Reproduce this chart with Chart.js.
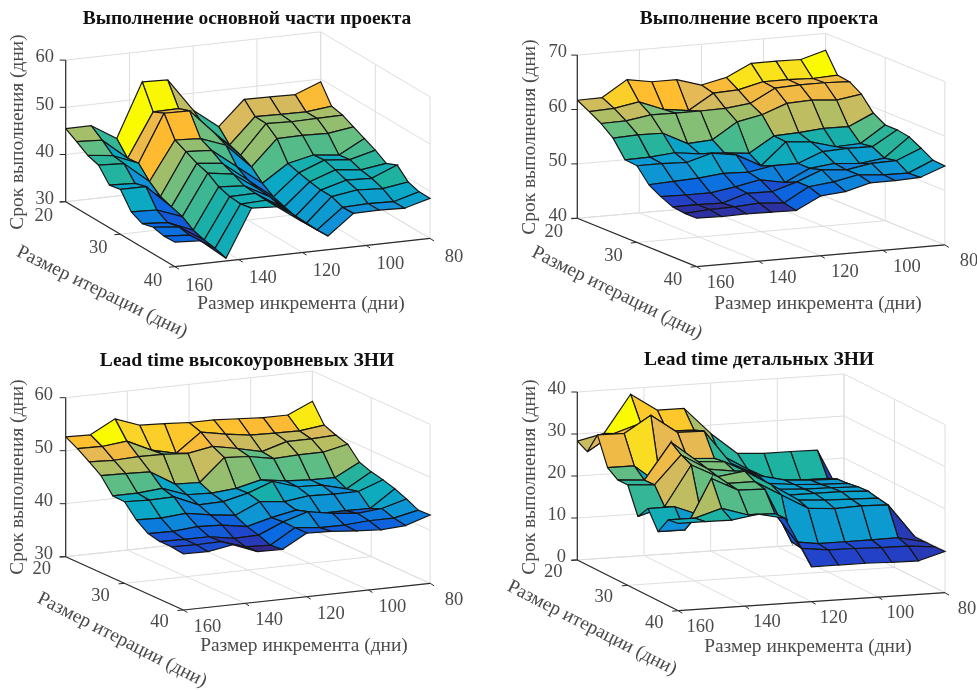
<!DOCTYPE html>
<html>
<head>
<meta charset="utf-8">
<title>Срок выполнения</title>
<script src="https://cdn.jsdelivr.net/npm/chart.js@4"></script>
<style>
body { margin: 0; background: #fff; }
canvas { position: absolute; }
</style>
</head>
<body>
<canvas id="c0" width="488" height="345" style="left:0;top:0"></canvas>
<canvas id="c1" width="488" height="345" style="left:489px;top:0"></canvas>
<canvas id="c2" width="488" height="345" style="left:0;top:345px"></canvas>
<canvas id="c3" width="488" height="345" style="left:489px;top:345px"></canvas>
<script>
// one inner list per increment (160 ... 80), values along iteration 20 ... 40
const incrementSizes = [160, 152, 144, 136, 128, 120, 112, 104, 96, 88, 80];
const iterationSizes = [20, 22, 24, 26, 28, 30, 32, 34, 36, 38, 40];
const incrementTicks = [160, 140, 120, 100, 80];
const iterationTicks = [20, 30, 40];

const mainPartDays = [
    [45.5, 44.1, 42.6, 41.9, 39.0, 39.5, 36.1, 35.0, 35.6, 35.1, 35.2],
    [45.5, 43.8, 41.9, 41.6, 38.8, 39.5, 35.9, 34.6, 35.1, 34.7, 34.9],
    [42.2, 39.4, 39.7, 37.2, 35.4, 34.6, 33.9, 32.4, 31.7, 31.3, 30.6],
    [53.6, 48.6, 49.7, 45.4, 44.3, 43.2, 42.5, 41.0, 40.3, 40.1, 40.6],
    [53.4, 48.7, 49.6, 45.1, 44.0, 42.6, 41.7, 40.6, 40.4, 40.3, 40.3],
    [46.4, 44.4, 44.2, 43.1, 39.9, 38.5, 37.9, 37.7, 37.0, 36.9, 36.5],
    [42.3, 39.8, 39.0, 37.9, 35.8, 34.3, 33.6, 32.9, 32.8, 32.8, 32.9],
    [47.5, 45.2, 45.1, 43.3, 39.4, 38.8, 38.3, 37.9, 37.9, 37.0, 37.1],
    [47.4, 45.1, 44.9, 43.4, 40.6, 40.9, 40.2, 39.4, 38.7, 37.2, 37.2],
    [47.3, 45.0, 45.0, 43.2, 40.0, 40.4, 39.6, 39.2, 38.4, 37.0, 37.0],
    [49.4, 45.6, 45.1, 44.0, 42.9, 41.8, 40.4, 41.4, 39.2, 38.5, 38.5]
];
const wholeProjectDays = [
    [61.7, 60.5, 59.2, 57.4, 54.3, 54.1, 51.5, 50.2, 49.2, 48.9, 48.9],
    [61.8, 60.7, 59.3, 57.6, 54.4, 54.1, 51.7, 50.1, 49.2, 49.2, 48.8],
    [64.7, 61.5, 60.0, 57.5, 54.8, 53.9, 51.9, 50.1, 49.1, 49.3, 48.9],
    [63.9, 59.7, 59.9, 55.2, 54.2, 55.2, 52.4, 50.8, 50.5, 49.6, 48.8],
    [63.9, 59.1, 59.9, 55.5, 54.0, 54.5, 52.2, 51.7, 50.4, 49.2, 48.7],
    [62.5, 61.9, 60.0, 58.4, 53.5, 52.1, 53.0, 50.8, 51.8, 51.8, 51.0],
    [63.5, 62.1, 60.5, 59.3, 56.3, 56.1, 53.0, 53.0, 53.6, 52.3, 51.4],
    [65.7, 63.2, 62.9, 61.0, 56.5, 55.7, 54.8, 53.5, 53.2, 53.2, 52.6],
    [65.7, 63.2, 63.1, 61.2, 56.9, 54.4, 55.0, 53.1, 54.0, 52.8, 52.6],
    [65.6, 63.0, 63.1, 60.8, 56.8, 54.6, 54.9, 53.7, 54.1, 52.7, 52.8],
    [66.9, 63.2, 62.9, 61.5, 58.9, 57.6, 57.6, 57.2, 56.0, 54.7, 54.5]
];
const highLevelLeadDays = [
    [52.6, 51.4, 49.9, 48.3, 45.5, 45.4, 43.0, 41.4, 40.9, 40.9, 40.6],
    [52.5, 51.3, 49.7, 48.2, 45.5, 45.2, 42.8, 41.3, 40.8, 40.8, 40.5],
    [55.0, 51.8, 49.9, 48.0, 45.9, 45.3, 43.2, 41.7, 40.8, 40.9, 41.3],
    [53.3, 49.6, 49.8, 45.2, 44.2, 43.3, 42.4, 41.5, 40.0, 39.4, 39.5],
    [53.1, 48.5, 49.5, 45.0, 44.0, 43.4, 41.8, 40.7, 40.1, 39.2, 39.4],
    [52.8, 52.0, 50.3, 49.2, 44.4, 44.5, 43.9, 41.9, 42.1, 42.0, 42.0],
    [52.8, 51.1, 49.4, 48.9, 45.5, 46.2, 43.4, 42.8, 43.5, 41.5, 41.8],
    [52.5, 50.4, 48.3, 48.0, 44.8, 44.7, 44.0, 41.7, 42.7, 41.5, 41.4],
    [52.2, 50.3, 49.7, 48.2, 44.5, 44.5, 43.8, 41.7, 42.2, 41.8, 41.1],
    [52.2, 50.2, 49.7, 48.2, 44.4, 43.3, 43.8, 41.6, 42.6, 41.8, 41.4],
    [54.3, 50.8, 49.9, 49.2, 46.8, 46.0, 45.5, 44.8, 43.9, 42.8, 42.9]
];
const detailedLeadDays = [
    [28.3, 27.0, 32.2, 25.6, 23.9, 23.9, 17.6, 20.7, 16.4, 20.4, 20.8],
    [29.7, 30.9, 32.1, 25.6, 23.4, 23.5, 19.5, 20.7, 16.4, 20.4, 20.8],
    [38.6, 32.9, 36.0, 20.5, 32.0, 30.2, 29.0, 18.2, 28.2, 22.3, 20.7],
    [34.4, 30.6, 31.5, 26.5, 27.0, 26.4, 25.8, 25.4, 25.0, 20.3, 21.7],
    [34.4, 30.4, 31.4, 26.1, 26.5, 25.5, 26.7, 25.4, 24.8, 20.2, 20.3],
    [28.0, 24.1, 23.3, 22.9, 23.3, 22.9, 23.0, 21.8, 11.9, 11.5, 8.3],
    [22.8, 20.3, 20.0, 19.3, 19.1, 18.9, 19.0, 18.2, 11.0, 10.7, 8.3],
    [22.4, 17.0, 18.5, 18.6, 18.7, 18.9, 18.5, 17.7, 11.0, 10.6, 8.3],
    [22.4, 16.8, 18.0, 18.2, 18.6, 18.9, 18.3, 17.9, 11.0, 10.4, 8.1],
    [22.3, 16.8, 17.8, 18.0, 18.4, 18.6, 18.1, 17.7, 11.1, 10.3, 8.0],
    [9.8, 9.8, 9.7, 9.7, 9.7, 9.7, 9.7, 9.7, 9.7, 9.7, 9.8]
];

// colours as they look in the picture, low to high, with the share of the range where each sits
const colorStops = [
    [50, 40, 140], [35, 65, 200], [10, 105, 225], [15, 145, 215], [10, 168, 198], [30, 178, 160],
    [100, 190, 130], [175, 190, 100], [225, 185, 90], [255, 187, 48], [250, 215, 40], [250, 250, 0]
];
const colorPlaces = [0, 0.08, 0.18, 0.28, 0.38, 0.47, 0.58, 0.66, 0.75, 0.83, 0.9, 1];

const panels = [
    { canvas: 'c0', left: 0, top: 0, title: 'Выполнение основной части проекта', z: mainPartDays, zTicks: [30, 40, 50, 60],
      origin: [65.7, 201.7], incStep: [25.5, -2.83], iterStep: [10.93, 6.5], zPx: 4.72,
      titleAt: [247, 19], zTickRight: 54, iterOff: [-22, 14], incOff: [24, 19],
      incLabel: [301, 304], iterLabel: [102, 292], iterAngle: 26, zLabel: [18, 132] },
    { canvas: 'c1', left: 489, top: 0, title: 'Выполнение всего проекта', z: wholeProjectDays, zTicks: [40, 50, 60, 70],
      origin: [88.3, 218.3], incStep: [24.83, -2.17], iterStep: [11.93, 4.83], zPx: 5.44,
      titleAt: [270, 19], zTickRight: 78, iterOff: [-23.5, 13.5], incOff: [24, 16.5],
      incLabel: [329, 304], iterLabel: [128, 293], iterAngle: 26.3, zLabel: [41, 137] },
    { canvas: 'c2', left: 0, top: 345, title: 'Lead time высокоуровневых ЗНИ', z: highLevelLeadDays, zTicks: [30, 40, 50, 60],
      origin: [65.7, 211.7], incStep: [24.67, -2.67], iterStep: [11.77, 5.33], zPx: 5.3,
      titleAt: [247, 16], zTickRight: 53, iterOff: [-24, 12.5], incOff: [24, 17],
      incLabel: [304, 301], iterLabel: [122, 295], iterAngle: 27, zLabel: [18, 132] },
    { canvas: 'c3', left: 489, top: 345, title: 'Lead time детальных ЗНИ', z: detailedLeadDays, zTicks: [0, 10, 20, 30, 40],
      origin: [88.3, 215], incStep: [26.67, -1.8], iterStep: [10.1, 5.07], zPx: 4.2,
      titleAt: [270, 15], zTickRight: 77, iterOff: [-24, 12], incOff: [22, 16],
      incLabel: [319, 302], iterLabel: [103, 283], iterAngle: 27, zLabel: [41, 132] }
];

function colorFor(value, low, high) {
    const share = (value - low) / (high - low);
    let k = 0;
    while (k < colorPlaces.length - 2 && share > colorPlaces[k + 1]) k++;
    const t = (share - colorPlaces[k]) / (colorPlaces[k + 1] - colorPlaces[k]);
    const rgb = colorStops[k].map((c, n) => Math.round(c + (colorStops[k + 1][n] - c) * t));
    return 'rgb(' + rgb.join(',') + ')';
}

function buildPanel(panel) {
    const all = panel.z.flat();
    const low = Math.min(...all);
    const high = Math.max(...all);
    const zMin = panel.zTicks[0];
    const zMax = panel.zTicks[panel.zTicks.length - 1];
    const incIndex = inc => (incrementSizes[0] - inc) / (incrementSizes[0] - incrementSizes[1]);
    const iterIndex = iter => (iter - iterationSizes[0]) / (iterationSizes[1] - iterationSizes[0]);

    // oblique view: increment and iteration run across the floor, days go up
    const project = (inc, iter, days) => {
        const a = incIndex(inc);
        const b = iterIndex(iter);
        return {
            x: panel.origin[0] + a * panel.incStep[0] + b * panel.iterStep[0],
            y: panel.origin[1] + a * panel.incStep[1] + b * panel.iterStep[1] - (days - zMin) * panel.zPx
        };
    };

    const datasets = [];
    const addLine = (points, color, width) => {
        datasets.push({ data: points, showLine: true, fill: false, borderColor: color, borderWidth: width,
            pointRadius: 0, clip: false, order: -datasets.length });
    };

    const incFar = incrementTicks[incrementTicks.length - 1];
    const incNear = incrementTicks[0];
    const iterFar = iterationTicks[0];
    const iterNear = iterationTicks[iterationTicks.length - 1];
    const grid = '#dedede';

    incrementTicks.forEach(inc => {
        addLine([project(inc, iterFar, zMin), project(inc, iterNear, zMin)], grid, 1);
        addLine([project(inc, iterFar, zMin), project(inc, iterFar, zMax)], grid, 1);
    });
    iterationTicks.forEach(iter => {
        addLine([project(incNear, iter, zMin), project(incFar, iter, zMin)], grid, 1);
        addLine([project(incFar, iter, zMin), project(incFar, iter, zMax)], grid, 1);
    });
    panel.zTicks.forEach(t => {
        addLine([project(incNear, iterFar, t), project(incFar, iterFar, t), project(incFar, iterNear, t)], grid, 1);
    });

    // axes with short outward ticks
    const axis = '#2b2b2b';
    addLine([project(incNear, iterFar, zMin), project(incNear, iterFar, zMax)], axis, 1.2);
    addLine([project(incNear, iterFar, zMin), project(incNear, iterNear, zMin)], axis, 1.2);
    addLine([project(incNear, iterNear, zMin), project(incFar, iterNear, zMin)], axis, 1.2);
    panel.zTicks.forEach(t => {
        const p = project(incNear, iterFar, t);
        addLine([p, { x: p.x - 6, y: p.y }], axis, 1);
    });
    iterationTicks.forEach(iter => {
        const p = project(incNear, iter, zMin);
        addLine([p, { x: p.x - 6, y: p.y + 0.5 }], axis, 1);
    });
    incrementTicks.forEach(inc => {
        const p = project(inc, iterNear, zMin);
        addLine([p, { x: p.x + 4, y: p.y + 2.5 }], axis, 1);
    });

    // far cells first so the near ones cover them
    for (let j = 0; j < iterationSizes.length - 1; j++) {
        for (let i = incrementSizes.length - 2; i >= 0; i--) {
            const corners = [
                project(incrementSizes[i], iterationSizes[j], panel.z[i][j]),
                project(incrementSizes[i + 1], iterationSizes[j], panel.z[i + 1][j]),
                project(incrementSizes[i + 1], iterationSizes[j + 1], panel.z[i + 1][j + 1]),
                project(incrementSizes[i], iterationSizes[j + 1], panel.z[i][j + 1])
            ];
            corners.push(corners[0]);
            datasets.push({
                data: corners, showLine: true, fill: 'shape', tension: 0,
                backgroundColor: colorFor(panel.z[i + 1][j], low, high),
                borderColor: '#161616', borderWidth: 1.2, pointRadius: 0, clip: false,
                order: -datasets.length
            });
        }
    }

    const textPlugin = {
        id: 'panelText',
        afterDraw(chart) {
            const c = chart.ctx;
            const px = v => chart.scales.x.getPixelForValue(v);
            const py = v => chart.scales.y.getPixelForValue(v);
            const put = (text, x, y, font, color, align, angle) => {
                c.save();
                c.translate(px(x), py(y));
                c.rotate((angle || 0) * Math.PI / 180);
                c.font = font;
                c.fillStyle = color;
                c.textAlign = align || 'center';
                c.textBaseline = 'middle';
                c.fillText(text, 0, 0);
                c.restore();
            };
            const tickFont = '18.5px "Liberation Serif"';
            const labelFont = '19.4px "Liberation Serif"';
            const gray = '#4a4a4a';
            put(panel.title, panel.titleAt[0], panel.titleAt[1], 'bold 19.5px "Liberation Serif"', '#111');
            panel.zTicks.forEach(t => {
                const p = project(incNear, iterFar, t);
                put(String(t), panel.zTickRight, p.y - 2.5, tickFont, gray, 'right');
            });
            iterationTicks.forEach(iter => {
                const p = project(incNear, iter, zMin);
                put(String(iter), p.x + panel.iterOff[0], p.y + panel.iterOff[1], tickFont, gray);
            });
            incrementTicks.forEach(inc => {
                const p = project(inc, iterNear, zMin);
                put(String(inc), p.x + panel.incOff[0], p.y + panel.incOff[1], tickFont, gray);
            });
            put('Размер инкремента (дни)', panel.incLabel[0], panel.incLabel[1], labelFont, gray);
            put('Размер итерации (дни)', panel.iterLabel[0], panel.iterLabel[1], labelFont, gray, 'center', panel.iterAngle);
            put('Срок выполнения (дни)', panel.zLabel[0], panel.zLabel[1], labelFont, gray, 'center', -90);
        }
    };

    new Chart(document.getElementById(panel.canvas), {
        type: 'scatter',
        data: { datasets: datasets },
        options: {
            responsive: false,
            animation: false,
            layout: { padding: 0 },
            plugins: { legend: { display: false }, tooltip: { enabled: false } },
            scales: {
                x: { type: 'linear', min: 0, max: 488, display: false },
                y: { type: 'linear', min: 0, max: 345, reverse: true, display: false }
            }
        },
        plugins: [textPlugin]
    });
}

panels.forEach(buildPanel);
</script>
</body>
</html>
